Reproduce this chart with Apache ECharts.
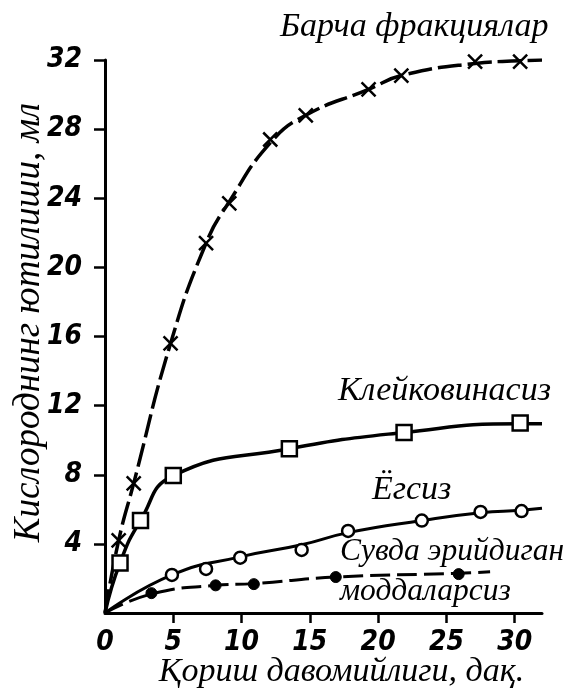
<!DOCTYPE html>
<html><head><meta charset="utf-8">
<script src="https://cdn.jsdelivr.net/npm/echarts@6/dist/echarts.min.js"></script>
<style>html,body{margin:0;padding:0;background:#fff}#c{width:566px;height:695px}</style>
</head><body><div id="c"></div>
<script>
// Mixing time (min) vs oxygen uptake (ml). *MX/*MY = plotted markers, *CX/*CY = drawn curve path
const barchaMX = [1.0, 2.1, 4.8, 7.4, 9.1, 12.1, 14.7, 19.3, 21.7, 27.1, 30.4];
const barchaMY = [4.2, 7.5, 15.6, 21.4, 23.7, 27.4, 28.8, 30.3, 31.1, 31.9, 31.9];
const barchaCX = [0, 1.0, 2.1, 4.8, 7.4, 9.1, 12.1, 14.7, 19.3, 21.7, 27.1, 30.4, 32.0];
const barchaCY = [0, 4.2, 7.5, 15.6, 21.4, 23.8, 27.2, 28.8, 30.3, 31.1, 31.8, 31.95, 32.0];
const kleykMX = [1.1, 2.6, 5.0, 13.5, 21.9, 30.4];
const kleykMY = [2.9, 5.35, 7.95, 9.5, 10.45, 11.0];
const kleykCX = [0, 1.1, 2.6, 5.0, 13.5, 21.9, 30.4, 32.0];
const kleykCY = [0, 2.9, 5.35, 7.95, 9.5, 10.45, 10.95, 10.95];
const yogMX = [4.9, 7.4, 9.9, 14.4, 17.8, 23.2, 27.5, 30.5];
const yogMY = [2.2, 2.55, 3.2, 3.65, 4.75, 5.35, 5.85, 5.9];
const yogCX = [0, 4.9, 9.9, 14.4, 17.8, 23.2, 27.5, 30.5, 32.0];
const yogCY = [0, 2.2, 3.25, 3.95, 4.65, 5.35, 5.8, 5.95, 6.06];
const suvMX = [3.4, 8.1, 10.9, 16.9, 25.9];
const suvMY = [1.15, 1.6, 1.67, 2.08, 2.25];
const suvCX = [0, 3.4, 8.1, 10.9, 16.9, 25.9, 28.2];
const suvCY = [0, 1.1, 1.6, 1.7, 2.08, 2.3, 2.38];
const xTicks = [0, 5, 10, 15, 20, 25, 30];
const yTicks = [4, 8, 12, 16, 20, 24, 28, 32];
const labels = ['Барча фракциялар', 'Клейковинасиз', 'Ёгсиз', 'Сувда эрийдиган', 'моддаларсиз'];
const xName = 'Қориш давомийлиги, дақ.';
const yName = 'Кислороднинг ютилиши, мл';

const zip = (xs, ys) => xs.map((x, i) => [x, ys[i]]);
const tickFont = { fontFamily: '"Liberation Sans Narrow","DejaVu Sans Condensed","Roboto",sans-serif', fontStyle: 'italic', fontWeight: 'bold', fontSize: 28, color: '#000' };
const serif = '"Liberation Serif","DejaVu Serif",serif';
const curve = (xs, ys, width, dash) => ({
  type: 'line', data: zip(xs, ys), smooth: 0.5, showSymbol: false, symbol: 'none',
  lineStyle: { color: '#000', width: width, type: dash || 'solid' }, z: 2, silent: true
});
const marks = (xs, ys, symbol, size, fill, bw) => ({
  type: 'scatter', data: zip(xs, ys), symbol: symbol, symbolSize: size,
  itemStyle: { color: fill, borderColor: '#000', borderWidth: bw, opacity: 1 }, z: 4
});

const chart = echarts.init(document.getElementById('c'));
chart.setOption({
  animation: false,
  backgroundColor: '#fff',
  grid: { left: 105, top: 60, width: 437, height: 553, containLabel: false, outerBoundsMode: 'none' },
  xAxis: {
    type: 'value', min: 0, max: 32, interval: 5,
    axisLine: { lineStyle: { color: '#000', width: 3 } },
    axisTick: { length: 10, lineStyle: { color: '#000', width: 2.5 }, customValues: xTicks.filter(v => v > 0) },
    axisLabel: { ...tickFont, margin: 16, customValues: xTicks, formatter: v => String(v) },
    splitLine: { show: false },
    name: xName, nameLocation: 'middle', nameGap: 42, nameMoveOverlap: false,
    nameTextStyle: { fontFamily: serif, fontStyle: 'italic', fontSize: 34, color: '#000', padding: [0, 0, 0, 36] }
  },
  yAxis: {
    type: 'value', min: 0, max: 32, interval: 4,
    axisLine: { lineStyle: { color: '#000', width: 3 } },
    axisTick: { length: 11, lineStyle: { color: '#000', width: 2.5 }, customValues: yTicks },
    axisLabel: { ...tickFont, margin: 23, customValues: yTicks, formatter: v => String(v) },
    splitLine: { show: false },
    name: yName, nameLocation: 'middle', nameGap: 57, nameRotate: 90, nameMoveOverlap: false,
    nameTextStyle: { fontFamily: serif, fontStyle: 'italic', fontSize: 37, color: '#000', padding: [0, 0, 0, 28] }
  },
  series: [
    curve(barchaCX, barchaCY, 3.5, [24, 6]),
    curve(kleykCX, kleykCY, 3.5),
    curve(yogCX, yogCY, 3),
    curve(suvCX, suvCY, 3, [20, 7]),
    marks(barchaMX, barchaMY, 'path://M0,0L10,10M10,0L0,10', 14, 'none', 2.5),
    marks(kleykMX, kleykMY, 'rect', 15, '#fff', 2.5),
    marks(yogMX, yogMY, 'circle', 12, '#fff', 2.5),
    marks(suvMX, suvMY, 'circle', 11, '#000', 1)
  ],
  graphic: [
    { type: 'text', x: 280, y: 27, style: { text: labels[0], font: 'italic 34px ' + serif, fill: '#000', verticalAlign: 'middle' } },
    { type: 'text', x: 338, y: 391, style: { text: labels[1], font: 'italic 34px ' + serif, fill: '#000', verticalAlign: 'middle' } },
    { type: 'text', x: 372, y: 490, style: { text: labels[2], font: 'italic 34px ' + serif, fill: '#000', verticalAlign: 'middle' } },
    { type: 'text', x: 340, y: 552, style: { text: labels[3], font: 'italic 31.5px ' + serif, fill: '#000', verticalAlign: 'middle' } },
    { type: 'text', x: 340, y: 592, style: { text: labels[4], font: 'italic 31.5px ' + serif, fill: '#000', verticalAlign: 'middle' } }
  ]
});
</script></body></html>
